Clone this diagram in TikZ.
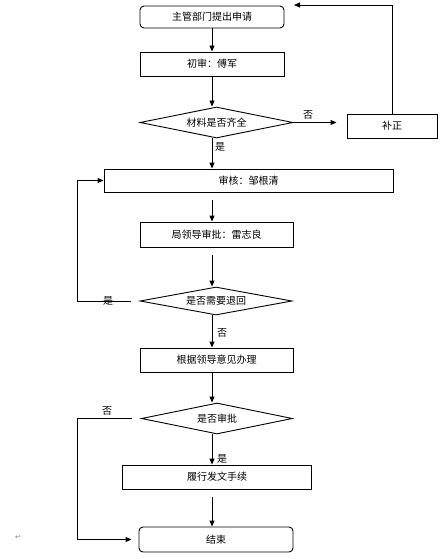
\documentclass[tikz,border=0pt]{standalone}
\usepackage{fontspec}
\setmainfont{Noto Sans CJK SC}
\newfontfamily\symfont{DejaVu Sans}
\usetikzlibrary{shapes.geometric,arrows.meta,calc}
\begin{document}
\begin{tikzpicture}[x=1pt,y=-1pt,
  font=\fontsize{10}{12}\selectfont,
  every path/.style={line width=0.9pt},
  box/.style={draw,inner sep=0pt,line width=0.9pt},
  rbox/.style={box,rounded corners=4pt},
  dia/.style={draw,diamond,aspect=5,inner sep=0pt,line width=0.9pt},
  arr/.style={-{Triangle[length=6pt,width=5pt]}},
  lab/.style={inner sep=0pt}]
\useasboundingbox (0,0) rectangle (443,559);
\coordinate (col) at (212,0);
\node[rbox,minimum width=144pt,minimum height=22pt] (start) at (212,17) {主管部门提出申请};
\node[box,minimum width=144pt,minimum height=24pt] (chu) at (212,64) {初审：傅军};
\node[dia,minimum width=153pt,minimum height=31pt] (d1) at (216.5,122.5) {材料是否齐全};
\node[box,minimum width=90pt,minimum height=24pt] (bz) at (392,126) {补正};
\node[box,minimum width=289pt,minimum height=23pt] (sh) at (248.5,180.5) {审核：邹根清};
\node[box,minimum width=153pt,minimum height=25pt] (ld) at (216.5,234.5) {局领导审批：雷志良};
\node[dia,minimum width=152pt,minimum height=28pt] (d2) at (216,301) {是否需要退回};
\node[box,minimum width=153pt,minimum height=24pt] (bl) at (216.5,360) {根据领导意见办理};
\node[dia,minimum width=151pt,minimum height=31pt] (d3) at (217,418.5) {是否审批};
\node[box,minimum width=189pt,minimum height=24pt] (lx) at (217,477) {履行发文手续};
\node[rbox,minimum width=154pt,minimum height=25pt] (end) at (216,539.5) {结束};
\coordinate (back) at (294,5);
\coordinate (lx1) at (77,0);
% main column
\draw[arr] (col |- start.south) -- (col |- chu.north);
\draw[arr] (col |- chu.south) -- (col |- d1.north);
\draw[arr] (col |- d1.south) -- (col |- sh.north);
\draw[arr,shorten <=8pt] (col |- sh.south) -- (col |- ld.north);
\draw[arr,shorten <=8pt] (col |- ld.south) -- (col |- d2.north);
\draw[arr] (col |- d2.south) -- (col |- bl.north);
\draw[arr] (col |- bl.south) -- (col |- d3.north);
\draw[arr] (col |- d3.south) -- (col |- lx.north);
\draw[arr,shorten <=8pt] (col |- lx.south) -- (col |- end.north);
% side branches
\draw[arr,shorten >=10pt] (d1.east) -- (d1.east -| bz.west);
\draw[arr] (bz.north) -- (bz.north |- back) -- (back);
\draw[arr] ([xshift=-9pt]d2.west) -- (lx1 |- d2.west) -- (lx1 |- sh.west) -- (sh.west);
\draw[arr,shorten >=7pt] ([xshift=-9pt]d3.west) -- (lx1 |- d3.west) -- (lx1 |- end.west) -- (end.west);
% labels
\node[lab] (l1) at (308,115) {否};
\node[lab] (l2) at (220,147) {是};
\node[lab] (l3) at (108,301) {是};
\node[lab] (l4) at (222,333) {否};
\node[lab] (l5) at (107,411) {否};
\node[lab] (l6) at (222,459) {是};
\node[lab,text=gray,font=\symfont\fontsize{7}{8}\selectfont] (ret) at (18,537) {↵};
\end{tikzpicture}
\end{document}
